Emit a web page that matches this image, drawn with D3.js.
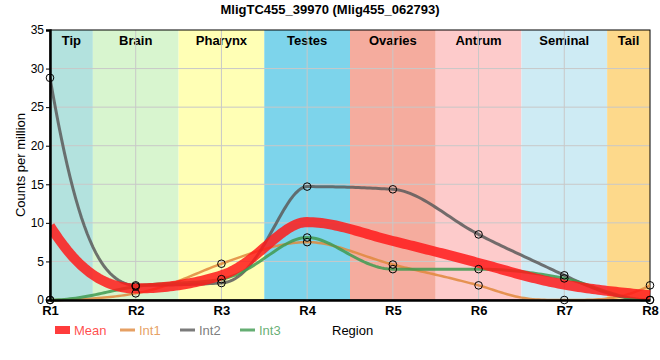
<!DOCTYPE html>
<html><head><meta charset="utf-8">
<script src="https://cdn.jsdelivr.net/npm/d3@7"></script>
<style>body{margin:0;background:#fff}svg{display:block;font-family:"Liberation Sans",Arial,sans-serif}</style>
</head><body><svg id="c" width="660" height="360"></svg>
<script>
const categories = ["R1","R2","R3","R4","R5","R6","R7","R8"];
const tissues = ["Tip","Brain","Pharynx","Testes","Ovaries","Antrum","Seminal","Tail"];
const tissueColors = ["#b3e2de","#d8f5cf","#ffffb5","#7dd4eb","#f5ac9e","#fdcbcb","#ceebf4","#fdd98b"];
const meanVals = [9.6, 1.5, 3.2, 10.1, 7.65, 4.8, 2.0, 0.63];
const int1 = [0, 0.86, 4.7, 7.5, 4.6, 1.9, 0, 1.9];
const int2 = [28.8, 1.9, 2.2, 14.7, 14.35, 8.5, 3.2, 0];
const int3 = [0, 1.75, 2.7, 8.1, 4.0, 4.0, 2.8, 0];
const yTicks = [0,5,10,15,20,25,30,35];
const seriesNames = ["Mean","Int1","Int2","Int3"];
const seriesColors = ["#ff1a1a","#e0883c","#5a5a5a","#3f9a50"];

const svg = d3.select("#c");
const L=50,R=650,T=30,B=300;
const x = d3.scalePoint().domain(categories).range([L,R]);
const xi = d3.scaleLinear().domain([0,categories.length-1]).range([L,R]);
const y = d3.scaleLinear().domain([0,35]).range([B,T]);

// smooth curve: monotone cubic in sqrt space (rendering only)
function smoothPath(vals){
  const v = vals.map(Math.sqrt), n=v.length;
  const s = []; for(let i=0;i<n-1;i++) s.push(v[i+1]-v[i]);
  const m = new Array(n);
  for(let i=1;i<n-1;i++){
    const a=s[i-1], b=s[i], p=(a+b)/2;
    m[i]=(Math.sign(a)+Math.sign(b))*Math.min(Math.abs(a),Math.abs(b),0.5*Math.abs(p))||0;
  }
  m[0]=(3*s[0]-m[1])/2; m[n-1]=(3*s[n-2]-m[n-2])/2;
  const pts=[];
  for(let i=0;i<n-1;i++){
    const steps=30;
    for(let k=(i?1:0);k<=steps;k++){
      const t=k/steps,t2=t*t,t3=t2*t;
      const f=(2*t3-3*t2+1)*v[i]+(t3-2*t2+t)*m[i]+(-2*t3+3*t2)*v[i+1]+(t3-t2)*m[i+1];
      pts.push([i+t, f*f]);
    }
  }
  return d3.line().x(d=>xi(d[0])).y(d=>y(d[1]))(pts);
}

// bands
tissues.forEach((t,i)=>{
  const a = xi(Math.max(0,i-0.5)), b = xi(Math.min(categories.length-1,i+0.5));
  svg.append("rect").attr("x",a).attr("y",T).attr("width",b-a).attr("height",B-T).attr("fill",tissueColors[i]);
  svg.append("text").attr("x",(a+b)/2).attr("y",T+15).attr("text-anchor","middle")
    .attr("font-size",13).attr("font-weight","bold").text(t);
});
// grid
yTicks.slice(1,-1).forEach(v=>svg.append("line").attr("x1",L).attr("x2",R).attr("y1",y(v)).attr("y2",y(v)).attr("stroke","#c8c8c8"));
categories.slice(1,-1).forEach(c=>svg.append("line").attr("x1",x(c)).attr("x2",x(c)).attr("y1",T).attr("y2",B).attr("stroke","#c8c8c8"));

// frame
svg.append("rect").attr("x",L).attr("y",T).attr("width",R-L).attr("height",B-T).attr("fill","none").attr("stroke","#000");

svg.append("defs").append("clipPath").attr("id","clip").append("rect").attr("x",L).attr("y",T-5).attr("width",R-L+5).attr("height",B-T+10);

const g = svg.append("g").attr("clip-path","url(#clip)");
const all = [meanVals,int1,int2,int3];
const widths=[10,2.5,3,3];
[1,2,3].forEach(k=>g.append("path").attr("d",smoothPath(all[k])).attr("fill","none").attr("stroke",seriesColors[k]).attr("stroke-width",widths[k]).attr("stroke-opacity",0.85));
g.append("path").attr("d",smoothPath(meanVals)).attr("fill","none").attr("stroke",seriesColors[0]).attr("stroke-width",widths[0]).attr("stroke-opacity",0.85);

// points
[int1,int2,int3].forEach(s=>{
  svg.append("g").selectAll("circle").data(s).join("circle")
    .attr("cx",(d,i)=>x(categories[i])).attr("cy",d=>y(d)).attr("r",3.8)
    .attr("fill","none").attr("stroke","#000").attr("stroke-width",1);
});

// axes
const ya = svg.append("g").attr("transform",`translate(${L},0)`).call(d3.axisLeft(y).tickValues(yTicks).tickSize(4).tickPadding(2));
ya.select(".domain").attr("stroke","#000").attr("stroke-width",2.5);
ya.selectAll("text").attr("font-size",12).attr("font-family","Liberation Sans,Arial,sans-serif").attr("fill","#000");
const xa = svg.append("g").attr("transform",`translate(0,${B})`).call(d3.axisBottom(x).tickSize(0).tickPadding(6));
xa.select(".domain").attr("stroke","#000").attr("stroke-width",2.5);
xa.selectAll("text").attr("font-size",13).attr("font-weight","bold").attr("font-family","Liberation Sans,Arial,sans-serif").attr("fill","#000");

// title & labels
svg.append("text").attr("x",330).attr("y",14).attr("text-anchor","middle").attr("font-size",13).attr("font-weight","bold").text("MligTC455_39970 (Mlig455_062793)");
svg.append("text").attr("transform","translate(25,165) rotate(-90)").attr("text-anchor","middle").attr("font-size",13).text("Counts per million");
svg.append("text").attr("x",332).attr("y",335).attr("font-size",13).text("Region");

// legend
const lx=[55,120,180,240];
seriesNames.forEach((n,i)=>{
  if(i===0) svg.append("rect").attr("x",lx[i]).attr("y",326).attr("width",15).attr("height",8).attr("fill",seriesColors[0]).attr("fill-opacity",0.85);
  else svg.append("line").attr("x1",lx[i]).attr("x2",lx[i]+15).attr("y1",330).attr("y2",330).attr("stroke",seriesColors[i]).attr("stroke-width",3).attr("stroke-opacity",0.8);
  svg.append("text").attr("x",lx[i]+19).attr("y",335).attr("font-size",13).attr("fill",seriesColors[i]).attr("fill-opacity",0.8).text(n);
});
</script></body></html>
